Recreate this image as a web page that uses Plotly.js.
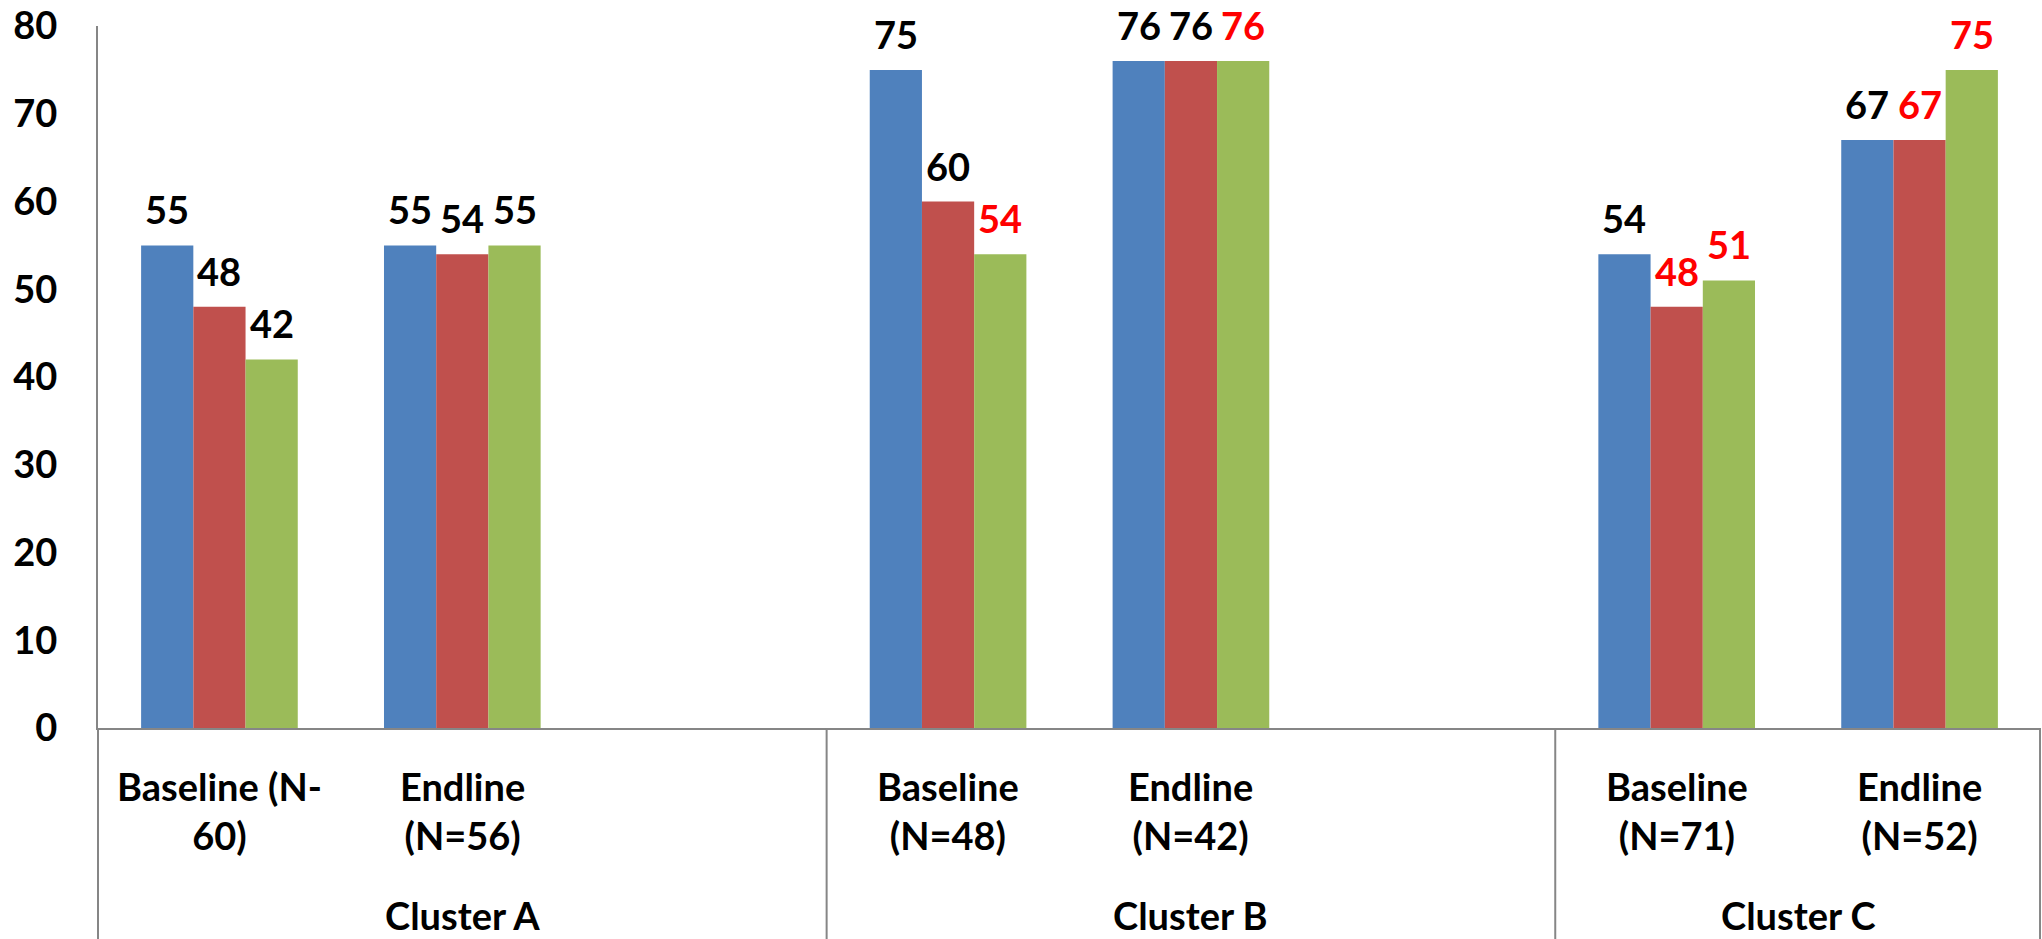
<!DOCTYPE html>
<html>
<head>
<meta charset="utf-8">
<script src="https://cdn.plot.ly/plotly-3.0.1.min.js"></script>
<style>html,body{margin:0;padding:0;background:#fff;}#chart{width:2042px;height:939px;}</style>
</head>
<body>
<div id="chart"></div>
<script>
// ---- data ----
const clusters = ["Cluster A", "Cluster B", "Cluster C"];
const clusterSlots = [3, 3, 2];            // category slots per cluster (Excel blank slot after A and B)
const groupLabels = ["Baseline (N-<br>60)", "Endline<br>(N=56)", "Baseline<br>(N=48)", "Endline<br>(N=42)", "Baseline<br>(N=71)", "Endline<br>(N=52)"];
const groupCluster = [0, 0, 1, 1, 2, 2];
const seriesNames = ["Series 1", "Series 2", "Series 3"];
const blueVals  = [55, 55, 75, 76, 54, 67];
const redVals   = [48, 54, 60, 76, 48, 67];
const greenVals = [42, 55, 54, 76, 51, 75];
const blueLabelColors  = ["#000", "#000", "#000", "#000", "#000", "#000"];
const redLabelColors   = ["#000", "#000", "#000", "#000", "#FF0000", "#FF0000"];
const greenLabelColors = ["#000", "#000", "#FF0000", "#FF0000", "#FF0000", "#FF0000"];
const yTicks = [0, 10, 20, 30, 40, 50, 60, 70, 80];

// ---- derived positions from the category structure ----
const clusterStart = [];
let acc = 0;
clusterSlots.forEach(s => { clusterStart.push(acc); acc += s; });
const totalSlots = acc;
const xPos = groupCluster.map((c, i) => {
  const idx = groupCluster.slice(0, i).filter(v => v === c).length;
  return clusterStart[c] + idx + 0.5;
});

const FONT = "Lato, 'Open Sans', sans-serif";
const colors = ["#4F81BD", "#C0504D", "#9BBB59"];
const series = [blueVals, redVals, greenVals];
const labelColors = [blueLabelColors, redLabelColors, greenLabelColors];
const bargap = 0.355;
const barW = (1 - bargap) / 3;

const traces = series.map((vals, k) => ({
  type: "bar",
  name: seriesNames[k],
  x: xPos,
  y: vals,
  marker: { color: colors[k], line: { width: 0 } },
  hoverinfo: "y"
}));

const annotations = [];
series.forEach((vals, k) => {
  vals.forEach((v, i) => {
    annotations.push({
      x: xPos[i] + (k - 1) * barW, y: v, xref: "x", yref: "y",
      text: String(v), showarrow: false, yanchor: "middle", yshift: 36,
      font: { family: FONT, size: 38, weight: "bold", color: labelColors[k][i] }
    });
  });
});
const plotH = 939 - 26 - 211;
groupLabels.forEach((t, i) => {
  annotations.push({
    x: xPos[i], y: -82 / plotH, xref: "x", yref: "paper",
    text: t, showarrow: false, yanchor: "middle", align: "center",
    font: { family: FONT, size: 38, weight: "bold", color: "#000" }
  });
});
clusters.forEach((c, j) => {
  annotations.push({
    x: clusterStart[j] + clusterSlots[j] / 2, y: -187 / plotH, xref: "x", yref: "paper",
    text: c, showarrow: false, yanchor: "middle",
    font: { family: FONT, size: 38, weight: "bold", color: "#000" }
  });
});

const lineStyle = { color: "#868686", width: 2 };
const shapes = [];
// left edge and right edge below axis, plus cluster separators
shapes.push({ type: "line", xref: "paper", yref: "paper", x0: 0, x1: 0, y0: 0, y1: -0.31, line: lineStyle });
shapes.push({ type: "line", xref: "paper", yref: "paper", x0: 0.9995, x1: 0.9995, y0: 0, y1: -0.31, line: lineStyle });
clusterStart.slice(1).forEach(s => {
  shapes.push({ type: "line", xref: "x", yref: "paper", x0: s, x1: s, y0: 0, y1: -0.31, line: lineStyle });
});

const layout = {
  width: 2042, height: 939,
  margin: { l: 98, r: 1, t: 26, b: 211 },
  paper_bgcolor: "#fff", plot_bgcolor: "#fff",
  barmode: "group", bargap: bargap, bargroupgap: 0,
  showlegend: false,
  xaxis: {
    range: [0, totalSlots], showticklabels: false, ticks: "",
    showgrid: false, zeroline: false, showline: true, linecolor: "#868686", linewidth: 2, fixedrange: true
  },
  yaxis: {
    range: [0, 80], tickvals: yTicks, ticktext: yTicks.map(String), ticks: "",
    showgrid: false, zeroline: false, showline: true, linecolor: "#868686", linewidth: 2,
    tickfont: { family: FONT, size: 38, weight: "bold", color: "#000" },
    ticklabelstandoff: 31, fixedrange: true
  },
  annotations: annotations,
  shapes: shapes
};

Plotly.newPlot("chart", traces, layout, { displayModeBar: false, staticPlot: true });
</script>
</body>
</html>
